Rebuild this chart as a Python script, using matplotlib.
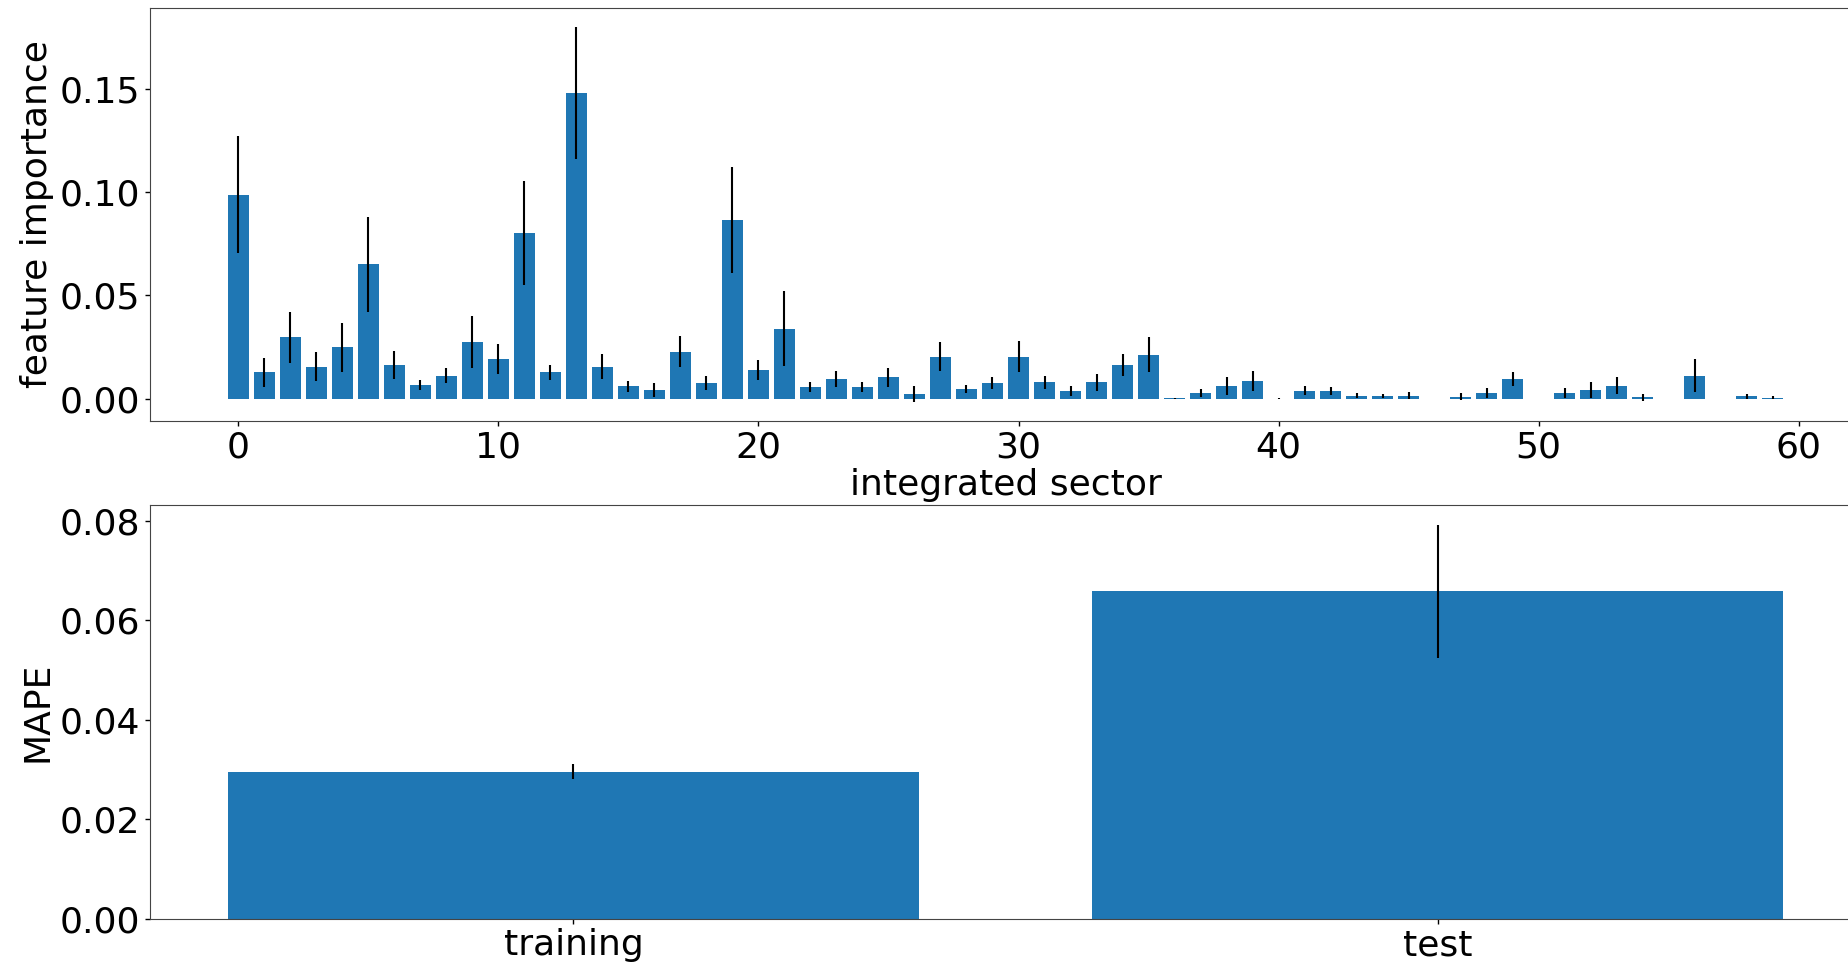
import numpy as np
import matplotlib
matplotlib.use("Agg")
import matplotlib.pyplot as plt

# Per-sector feature importance (mean and spread across model fits)
sectors = list(range(60))
importance = [
    0.0987, 0.0128, 0.0297, 0.0156, 0.0249, 0.0650, 0.0164, 0.0067, 0.0112, 0.0276,
    0.0192, 0.0802, 0.0128, 0.1479, 0.0156, 0.0061, 0.0043, 0.0229, 0.0077, 0.0866,
    0.0140, 0.0340, 0.0056, 0.0096, 0.0056, 0.0104, 0.0024, 0.0205, 0.0048, 0.0077,
    0.0205, 0.0080, 0.0040, 0.0080, 0.0164, 0.0213, 0.0003, 0.0027, 0.0061, 0.0088,
    0.0002, 0.0040, 0.0040, 0.0016, 0.0016, 0.0016, 0.0001, 0.0011, 0.0027, 0.0096,
    0.0001, 0.0027, 0.0043, 0.0064, 0.0008, 0.0000, 0.0112, 0.0000, 0.0013, 0.0006,
]
importance_err = [
    0.0284, 0.0068, 0.0125, 0.0070, 0.0120, 0.0228, 0.0070, 0.0026, 0.0036, 0.0125,
    0.0072, 0.0250, 0.0035, 0.0320, 0.0060, 0.0028, 0.0034, 0.0076, 0.0035, 0.0257,
    0.0048, 0.0180, 0.0024, 0.0040, 0.0024, 0.0044, 0.0040, 0.0070, 0.0020, 0.0027,
    0.0076, 0.0032, 0.0024, 0.0040, 0.0053, 0.0084, 0.0003, 0.0020, 0.0043, 0.0048,
    0.0002, 0.0021, 0.0020, 0.0012, 0.0010, 0.0016, 0.0001, 0.0017, 0.0024, 0.0035,
    0.0001, 0.0024, 0.0037, 0.0040, 0.0016, 0.0000, 0.0080, 0.0000, 0.0011, 0.0006,
]

# Prediction error on the two data splits
splits = ["training", "test"]
mape = [0.0295, 0.0658]
mape_err = [0.0015, 0.0134]

plt.rcParams["font.family"] = ["DejaVu Sans"]
plt.rcParams["font.size"] = 26

W, H = 1849, 963
fig = plt.figure(figsize=(W / 100, H / 100), dpi=100)

left = 150 / W
width = (1861 - 150) / W
ax1 = fig.add_axes([left, 1 - 421 / H, width, (421 - 8) / H])
ax2 = fig.add_axes([left, 1 - 918.6 / H, width, (918.6 - 505) / H])

bar_color = "#1f77b4"
spine_color = "#444444"

ax1.bar(sectors, importance, yerr=importance_err, color=bar_color,
        ecolor="black", error_kw=dict(elinewidth=1.5))
ax1.set_xlabel("integrated sector", labelpad=2)
ax1.set_ylabel("feature importance")
ax1.set_yticks([0.0, 0.05, 0.10, 0.15])
ax1.set_yticklabels(["0.00", "0.05", "0.10", "0.15"])

ax2.bar(splits, mape, yerr=mape_err, color=bar_color,
        ecolor="black", error_kw=dict(elinewidth=1.5))
ax2.set_ylabel("MAPE")
ax2.set_yticks([0.0, 0.02, 0.04, 0.06, 0.08])
ax2.set_yticklabels(["0.00", "0.02", "0.04", "0.06", "0.08"])

for ax in (ax1, ax2):
    for s in ax.spines.values():
        s.set_color(spine_color)
    ax.tick_params(colors="black", width=1)

fig.savefig("out.png", dpi=100)
